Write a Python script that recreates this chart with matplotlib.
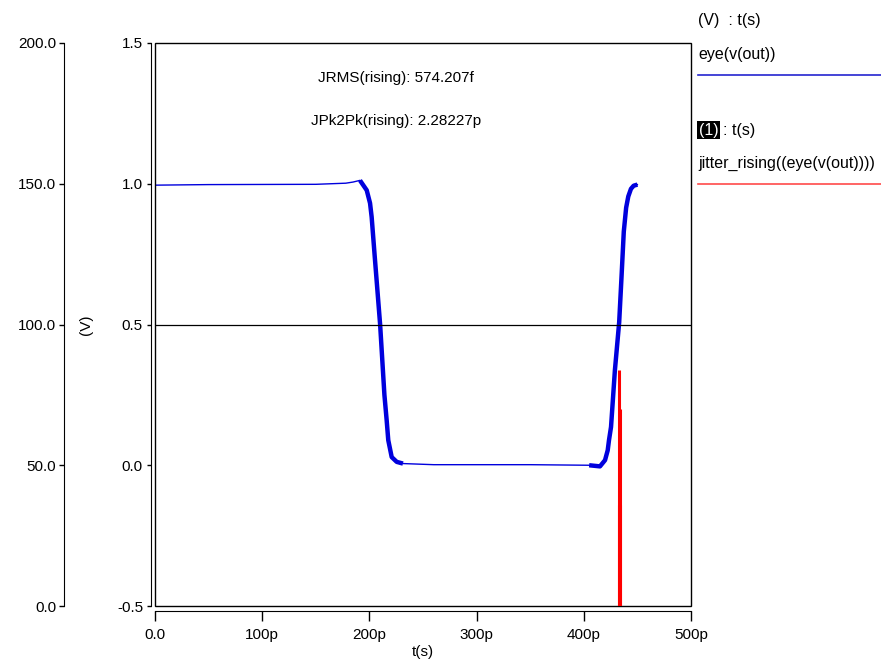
import matplotlib.pyplot as plt
from matplotlib.lines import Line2D
from matplotlib.patches import Rectangle

plt.rcParams['font.family'] = ['Liberation Sans', 'DejaVu Sans']
plt.rcParams['font.size'] = 11

# eye(v(out)): time in ps, voltage in V
t_eye = [0, 50, 150, 178, 184.7, 191.2, 197.5, 200.6, 202.1, 205, 210, 214,
         216.1, 217.6, 220.8, 225.5, 231.3, 260, 350, 405, 415.1, 419.8,
         422.3, 423.5, 425.4, 429, 433, 435.2, 437.3, 439.5, 441.5, 444,
         446.5, 450]
v_eye = [0.995, 0.997, 0.998, 1.002, 1.006, 1.012, 0.977, 0.931, 0.882, 0.74,
         0.50, 0.25, 0.160, 0.089, 0.029, 0.012, 0.006, 0.002, 0.002, 0.0,
         -0.004, 0.018, 0.053, 0.089, 0.136, 0.337, 0.508, 0.67, 0.83,
         0.915, 0.955, 0.982, 0.993, 0.997]
fall = (5, 17)   # index range of the falling edge
rise = (19, 34)  # index range of the rising edge

# jitter_rising histogram: crossing times (ps) and counts
jit_t = [432.6, 433.1, 433.6, 434.1]
jit_n = [36, 84, 70, 36]

xticks = [0, 100, 200, 300, 400, 500]
xlabels = ['0.0', '100p', '200p', '300p', '400p', '500p']
yticks = [-0.5, 0.0, 0.5, 1.0, 1.5]
cticks = [0, 50, 100, 150, 200]

W, H = 881, 669
PT = 0.72  # points per pixel at dpi 100
fig = plt.figure(figsize=(W / 100, H / 100), dpi=100)
ax = fig.add_axes([155 / W, 1 - 606 / H, 536 / W, 563 / H])

blue = '#0000dd'
ax.plot(t_eye, v_eye, color=blue, lw=1.0)
ax.plot(t_eye[fall[0]:fall[1]], v_eye[fall[0]:fall[1]], color=blue, lw=3.2,
        solid_capstyle='butt')
ax.plot(t_eye[rise[0]:rise[1]], v_eye[rise[0]:rise[1]], color=blue, lw=3.2,
        solid_capstyle='butt')
ax.axhline(0.5, color='black', lw=0.9)

ax.set_xlim(0, 500)
ax.set_ylim(-0.5, 1.5)
ax.set_xticks(xticks, xlabels)
ax.set_yticks(yticks, [f'{v:.1f}' for v in yticks])
for s in ['top', 'right']:
    ax.spines[s].set_visible(False)
ax.spines['left'].set_position(('outward', 4 * PT))
ax.spines['bottom'].set_position(('outward', 5 * PT))
ax.tick_params(axis='x', length=10 * PT, width=1, pad=7 * PT)
ax.tick_params(axis='y', length=4 * PT, width=1, pad=4 * PT)
ax.add_patch(Rectangle((0, 0), 1, 1, transform=ax.transAxes, fill=False,
                       lw=1, ec='black', clip_on=False, zorder=5))
ax.set_xlabel('t(s)', labelpad=2)

ax.text(0.45, 0.93, 'JRMS(rising): 574.207f', transform=ax.transAxes, ha='center')
ax.text(0.45, 0.855, 'JPk2Pk(rising): 2.28227p', transform=ax.transAxes, ha='center')

# count axis for the jitter histogram
ax2 = ax.twinx()
ax2.vlines(jit_t, 0, jit_n, color='#ff0000', lw=2.2)
ax2.set_ylim(0, 200)
ax2.set_yticks(cticks, [f'{c:.1f}' for c in cticks])
ax2.yaxis.tick_left()
for s in ['top', 'right', 'bottom']:
    ax2.spines[s].set_visible(False)
ax2.spines['left'].set_visible(True)
ax2.spines['left'].set_position(('outward', 91 * PT))
ax2.tick_params(axis='y', length=5 * PT, width=1, pad=3 * PT)

def ftext(x, y, s, **kw):
    fig.text(x / W, 1 - y / H, s, va='center', **kw)

ftext(86, 325, '(V)', rotation=90, ha='center')

# legend on the right
ftext(698, 20, '(V)  : t(s)', fontsize=11.5)
ftext(698, 54, 'eye(v(out))', fontsize=11.5)
fig.add_artist(Line2D([698 / W, 1], [1 - 75 / H] * 2, color='#2525d0', lw=1.2))
ftext(699, 130, '(1)', color='white', fontsize=11.5,
      bbox=dict(facecolor='black', edgecolor='none', pad=1.2))
ftext(723, 130, ': t(s)', fontsize=11.5)
ftext(698, 163, 'jitter_rising((eye(v(out))))', fontsize=11.5)
fig.add_artist(Line2D([698 / W, 1], [1 - 184 / H] * 2, color='#ff4a4a', lw=1.2))

fig.savefig('out.png', dpi=100)
